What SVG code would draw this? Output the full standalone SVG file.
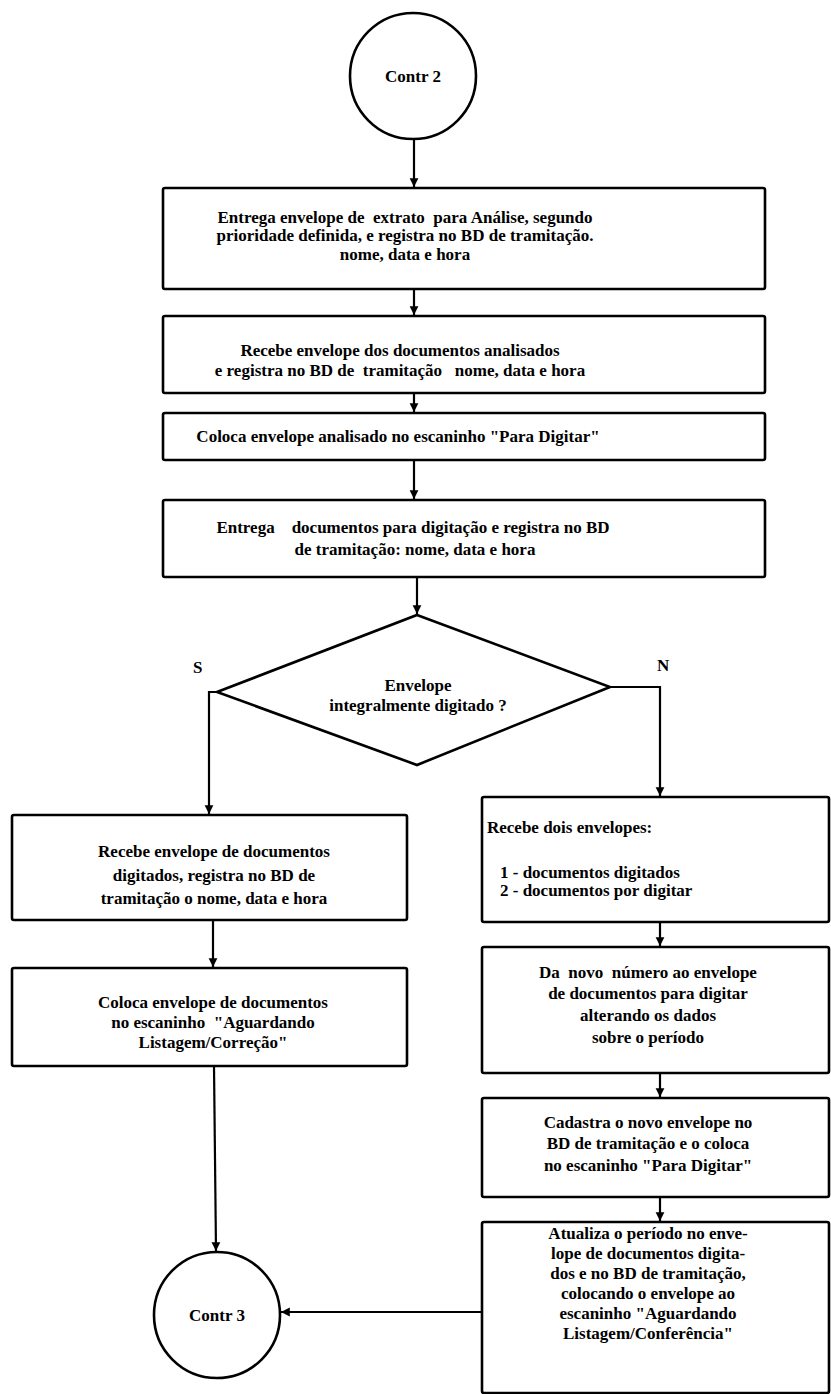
<svg xmlns="http://www.w3.org/2000/svg" width="831" height="1394" viewBox="0 0 831 1394">
<style>
.s{fill:#fff;stroke:#000;stroke-width:2.6}
.c{fill:none;stroke:#000;stroke-width:2.2}
text{font-family:"Liberation Serif","Times New Roman",serif;font-weight:bold;font-size:17px;fill:#000;white-space:pre}
.m{text-anchor:middle}
</style>
<defs>
<marker id="ah" viewBox="0 0 10 10" refX="10" refY="5" markerWidth="4" markerHeight="5" orient="auto" markerUnits="strokeWidth">
<path d="M0,0 L10,5 L0,10 z" fill="#000"/>
</marker>
</defs>
<rect width="831" height="1394" fill="#fff"/>
<g id="connectors">
<line class="c" x1="414" y1="139" x2="414" y2="187" marker-end="url(#ah)"/>
<line class="c" x1="414" y1="289" x2="414" y2="315" marker-end="url(#ah)"/>
<line class="c" x1="414" y1="393" x2="414" y2="412" marker-end="url(#ah)"/>
<line class="c" x1="414" y1="460" x2="414" y2="499" marker-end="url(#ah)"/>
<line class="c" x1="417" y1="577" x2="417" y2="614" marker-end="url(#ah)"/>
<polyline class="c" points="217,692 209,692 209,814" marker-end="url(#ah)"/>
<polyline class="c" points="610,687 660,687 660,796" marker-end="url(#ah)"/>
<line class="c" x1="213" y1="920" x2="213" y2="967" marker-end="url(#ah)"/>
<line class="c" x1="214" y1="1066" x2="216" y2="1251" marker-end="url(#ah)"/>
<line class="c" x1="660" y1="922" x2="660" y2="946" marker-end="url(#ah)"/>
<line class="c" x1="660" y1="1073" x2="660" y2="1097" marker-end="url(#ah)"/>
<line class="c" x1="660" y1="1197" x2="660" y2="1221" marker-end="url(#ah)"/>
<line class="c" x1="482" y1="1312" x2="281" y2="1312" marker-end="url(#ah)"/>
</g>
<g id="contr2">
<circle class="s" cx="413" cy="76" r="63"/>
<text class="m" x="413" y="82">Contr 2</text>
</g>
<g id="box1">
<rect class="s" x="163" y="188" width="602" height="101" rx="2"/>
<text class="m" x="405" y="223">Entrega envelope de  extrato  para Análise, segundo</text>
<text class="m" x="405" y="241">prioridade definida, e registra no BD de tramitação.</text>
<text class="m" x="405" y="260">nome, data e hora</text>
</g>
<g id="box2">
<rect class="s" x="163" y="316" width="602" height="77" rx="2"/>
<text class="m" x="400" y="356">Recebe envelope dos documentos analisados</text>
<text class="m" x="400" y="376">e registra no BD de  tramitação   nome, data e hora</text>
</g>
<g id="box3">
<rect class="s" x="163" y="413" width="602" height="47" rx="2"/>
<text class="m" x="398" y="442">Coloca envelope analisado no escaninho "Para Digitar"</text>
</g>
<g id="box4">
<rect class="s" x="163" y="500" width="602" height="77" rx="2"/>
<text class="m" x="413" y="533">Entrega    documentos para digitação e registra no BD</text>
<text class="m" x="415" y="555">de tramitação: nome, data e hora</text>
</g>
<g id="decision">
<polygon class="s" points="417,615 610,687 417,765 217,692"/>
<text class="m" x="418" y="691">Envelope</text>
<text class="m" x="418" y="711">integralmente digitado ?</text>
<text x="193" y="673">S</text>
<text x="657" y="671">N</text>
</g>
<g id="left1">
<rect class="s" x="12" y="815" width="395" height="105" rx="2"/>
<text class="m" x="214" y="857">Recebe envelope de documentos</text>
<text class="m" x="214" y="881">digitados, registra no BD de</text>
<text class="m" x="214" y="904">tramitação o nome, data e hora</text>
</g>
<g id="left2">
<rect class="s" x="12" y="968" width="395" height="98" rx="2"/>
<text class="m" x="213" y="1008">Coloca envelope de documentos</text>
<text class="m" x="213" y="1028">no escaninho  "Aguardando</text>
<text class="m" x="213" y="1048">Listagem/Correção"</text>
</g>
<g id="right1">
<rect class="s" x="482" y="797" width="347" height="125" rx="2"/>
<text x="487" y="833">Recebe dois envelopes:</text>
<text x="500" y="878">1 - documentos digitados</text>
<text x="500" y="896">2 - documentos por digitar</text>
</g>
<g id="right2">
<rect class="s" x="482" y="947" width="347" height="126" rx="2"/>
<text class="m" x="648" y="978">Da  novo  número ao envelope</text>
<text class="m" x="648" y="999">de documentos para digitar</text>
<text class="m" x="648" y="1021">alterando os dados</text>
<text class="m" x="648" y="1043">sobre o período</text>
</g>
<g id="right3">
<rect class="s" x="482" y="1098" width="347" height="99" rx="2"/>
<text class="m" x="648" y="1128">Cadastra o novo envelope no</text>
<text class="m" x="648" y="1149">BD de tramitação e o coloca</text>
<text class="m" x="648" y="1171">no escaninho "Para Digitar"</text>
</g>
<g id="right4">
<rect class="s" x="482" y="1222" width="347" height="171" rx="2"/>
<text class="m" x="648" y="1239">Atualiza o período no enve-</text>
<text class="m" x="648" y="1259">lope de documentos digita-</text>
<text class="m" x="648" y="1279">dos e no BD de tramitação,</text>
<text class="m" x="648" y="1299">colocando o envelope ao</text>
<text class="m" x="648" y="1319">escaninho "Aguardando</text>
<text class="m" x="648" y="1339">Listagem/Conferência"</text>
</g>
<g id="contr3">
<circle class="s" cx="217" cy="1315" r="63"/>
<text class="m" x="217" y="1321">Contr 3</text>
</g>
</svg>
